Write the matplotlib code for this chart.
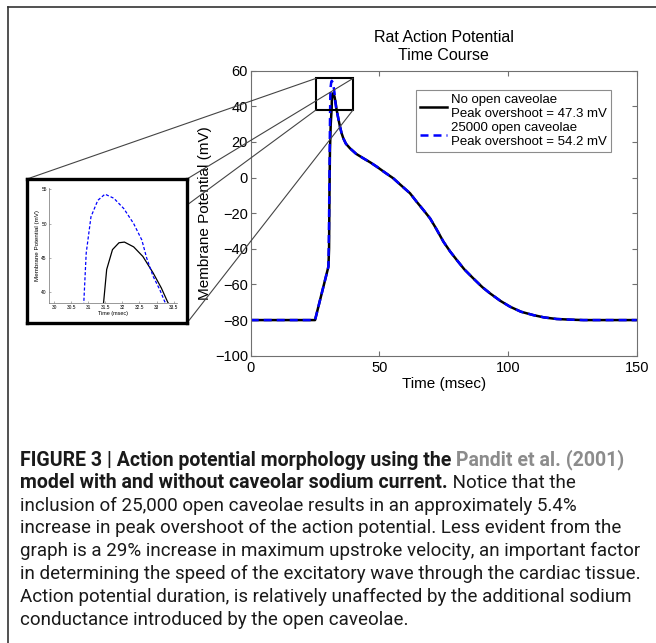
import matplotlib
matplotlib.use("Agg")
import matplotlib.pyplot as plt
from matplotlib.patches import Rectangle, ConnectionPatch
from matplotlib.lines import Line2D

plt.rcParams['font.family'] = ['Liberation Sans', 'DejaVu Sans']

# Data
# upstroke + peak, no open caveolae (ms, mV)
t_black = [0, 25, 30.2, 30.45, 30.6, 30.8, 31.1, 31.45, 31.54, 31.71, 31.9, 32.06,
           32.33, 32.6, 32.9, 33.14, 33.33]
v_black = [-80, -80, -50, -40, -10, 15, 30, 38.5, 43.3, 46.2, 47.2, 47.3,
           46.6, 45.2, 42.8, 40.6, 38.5]
# upstroke + peak, 25000 open caveolae
t_blue = [0, 25, 30.2, 30.4, 30.6, 30.8, 30.87, 30.94, 31.08, 31.28, 31.49, 31.75,
          32.04, 32.33, 32.57, 32.71, 32.9, 33.1, 33.24]
v_blue = [-80, -80, -50, -30, 0, 30, 38.5, 45.7, 51.0, 53.4, 54.3, 53.7,
          52.2, 50.0, 47.6, 45.0, 42.3, 40.3, 38.6]
# repolarisation, shared by both runs
t_tail = [33.6, 34.0, 34.7, 35.3, 36.0, 37.0, 38.6, 41.0, 43.8, 46.5, 49.0, 52.0, 55.4, 58.0,
          61.9, 64.5, 67.0, 69.7, 72.0, 74.9, 77.5, 80.1, 83.0, 86.5, 90.0, 93.0,
          97.0, 100.8, 105.0, 109.8, 114.0, 118.9, 125.0, 129.3, 150.0]
v_tail = [36.5, 33.5, 28.6, 25.0, 22.0, 19.0, 16.4, 13.3, 10.8, 8.5, 6.1, 3.0, -0.4, -3.8,
          -8.8, -13.6, -18.0, -22.9, -28.5, -36.0, -41.5, -46.3, -51.5, -56.6, -61.5, -65.0,
          -69.2, -72.5, -75.3, -77.2, -78.5, -79.4, -79.8, -80.0, -80.0]

labels = ["No open caveolae\nPeak overshoot = 47.3 mV",
          "25000 open caveolae\nPeak overshoot = 54.2 mV"]
x_ticks = [0, 50, 100, 150]
y_ticks = [-100, -80, -60, -40, -20, 0, 20, 40, 60]
inset_xticks = [30, 30.5, 31, 31.5, 32, 32.5, 33, 33.5]
inset_xticklabels = ["30", "30.5", "31", "31.5", "32", "32.5", "33", "33.5"]
inset_yticks = [40, 45, 50, 55]
zoom_box = (25.4, 39.8, 38.0, 55.7)  # x0, x1, y0, y1 in data units

caption = [
    [("FIGURE 3 | Action potential morphology using the", 'b'), (" Pandit et al. (2001)", 'g')],
    [("model with and without caveolar sodium current.", 'b'), (" Notice that the", 'n')],
    [("inclusion of 25,000 open caveolae results in an approximately 5.4%", 'n')],
    [("increase in peak overshoot of the action potential. Less evident from the", 'n')],
    [("graph is a 29% increase in maximum upstroke velocity, an important factor", 'n')],
    [("in determining the speed of the excitatory wave through the cardiac tissue.", 'n')],
    [("Action potential duration, is relatively unaffected by the additional sodium", 'n')],
    [("conductance introduced by the open caveolae.", 'n')],
]

W, H = 656, 643
fig = plt.figure(figsize=(W / 100, H / 100), dpi=100)

def fx(px):
    return px / W

def fy(py):
    return 1 - py / H

# background axes for caption and outer border
bg = fig.add_axes([0, 0, 1, 1], zorder=-1)
bg.set_xlim(0, 1)
bg.set_ylim(0, 1)
bg.axis('off')
bg.add_line(Line2D([fx(8), fx(8)], [0, fy(7)], color='#333333', lw=1.2))
bg.add_line(Line2D([fx(8), 1], [fy(7), fy(7)], color='#333333', lw=1.2))

# main axes
ax = fig.add_axes([fx(250.7), fy(355.7), fx(386), 285 / H])
t_b = t_black + t_tail
v_b = v_black + v_tail
t_u = t_blue + t_tail
v_u = v_blue + v_tail
ax.plot(t_b, v_b, color='black', lw=1.8, label=labels[0])
ax.plot(t_u, v_u, color='#0000ff', lw=1.8, ls=(0, (3.2, 2.0)), label=labels[1])
ax.set_xlim(0, 150)
ax.set_ylim(-100, 60)
ax.set_xticks(x_ticks)
ax.set_yticks(y_ticks)
ax.tick_params(direction='in', top=True, right=True, length=3.5, width=0.8,
               color='#707070', labelsize=10.5)
ax.tick_params(axis='y', pad=2)
ax.tick_params(axis='x', pad=3.5)
for s in ax.spines.values():
    s.set_color('#707070')
    s.set_linewidth(0.8)
ax.set_title("Rat Action Potential\nTime Course", fontsize=11.5, pad=8, linespacing=1.2)
ax.set_xlabel("Time (msec)", fontsize=11, labelpad=2)
ax.set_ylabel("Membrane Potential (mV)", fontsize=11, labelpad=2)

x0, x1, y0, y1 = zoom_box
ax.add_patch(Rectangle((x0, y0), x1 - x0, y1 - y0, fill=False, ec='black', lw=1.5, zorder=4))

leg = ax.legend(loc='upper left', bbox_to_anchor=(0.4275, 0.932), borderaxespad=0,
                fontsize=9.5, frameon=True, fancybox=False, edgecolor='#707070',
                handlelength=2.1, handletextpad=0.25, borderpad=0.3, labelspacing=0.15)
leg.get_frame().set_linewidth(0.8)

# inset frame and inset axes
frame_l, frame_r, frame_t, frame_b = 27, 187, 179, 323
frame = fig.add_axes([fx(frame_l), fy(frame_b), fx(frame_r - frame_l), (frame_b - frame_t) / H], zorder=4)
frame.set_xticks([])
frame.set_yticks([])
frame.set_facecolor('white')
for s in frame.spines.values():
    s.set_linewidth(2.4)
    s.set_color('black')

ins = fig.add_axes([fx(49), fy(303), fx(128), 115 / H], zorder=5)
ins.plot(t_b, v_b, color='black', lw=0.9)
ins.plot(t_u, v_u, color='#0000ff', lw=0.9, ls=(0, (2.5, 1.6)))
ins.set_xlim(29.85, 33.6)
ins.set_ylim(38.4, 55.2)
ins.set_xticks(inset_xticks)
ins.set_xticklabels(inset_xticklabels)
ins.set_yticks(inset_yticks)
ins.tick_params(direction='in', length=1.5, width=0.4, color='#707070', labelsize=3.5, pad=1.5)
ins.spines['top'].set_visible(False)
ins.spines['right'].set_visible(False)
for s in ('left', 'bottom'):
    ins.spines[s].set_color('#707070')
    ins.spines[s].set_linewidth(0.5)
ins.set_xlabel("Time (msec)", fontsize=4, labelpad=0.5)
ins.set_ylabel("Membrane Potential (mV)", fontsize=4.5, labelpad=1)

# connector lines from zoom box to inset frame
corners = [((x0, y1), (frame_l, frame_t)), ((x1, y1), (frame_r, frame_t)),
           ((x0, y0), (frame_l, frame_b)), ((x1, y0), (frame_r, frame_b))]
for a, b in corners:
    con = ConnectionPatch(xyA=a, coordsA='data', axesA=ax,
                          xyB=(fx(b[0]), fy(b[1])), coordsB='figure fraction',
                          color='#444444', lw=0.8, zorder=3)
    fig.add_artist(con)

# caption, sizes fitted to the widths of the reference lines
cap_font = ['Roboto', 'DejaVu Sans']
renderer = fig.canvas.get_renderer()
probe = bg.text(0, 0, caption[5][0][0], fontsize=13, family=cap_font)
norm_size = 13 * 621 / probe.get_window_extent(renderer).width
probe.remove()
probe = bg.text(0, 0, caption[0][0][0] + caption[0][1][0], fontsize=13, family=cap_font,
                weight='bold')
bold_size = 13 * 606 / probe.get_window_extent(renderer).width
probe.remove()

styles = {'b': dict(weight='bold', color='#1a1a1a', fontsize=bold_size),
          'g': dict(weight='bold', color='#8c8c8c', fontsize=bold_size),
          'n': dict(weight='normal', color='#1a1a1a', fontsize=norm_size)}
first_y = 460
spacing = 22.8
for i, line in enumerate(caption):
    yc = first_y + i * spacing
    prev = None
    for seg, st in line:
        if prev is None:
            prev = bg.text(fx(20), fy(yc), seg, family=cap_font,
                           va='center', ha='left', **styles[st])
        else:
            prev = bg.annotate(seg, xy=(1, 0), xycoords=prev, va='bottom', ha='left',
                               family=cap_font, **styles[st])

fig.savefig('out.png', dpi=100)
